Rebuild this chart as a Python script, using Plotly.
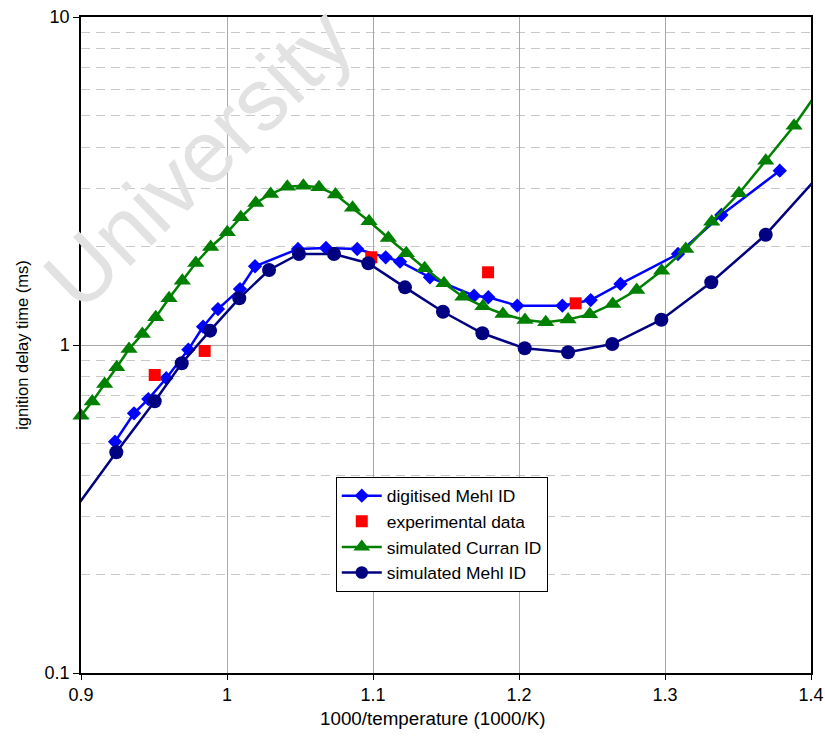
import plotly.graph_objects as go

# ---------------- data ----------------
dig_mehl_x = [0.9233, 0.9363, 0.9461, 0.9584, 0.9735, 0.9836, 0.9938, 1.0089, 1.0192,
              1.0486, 1.0678, 1.0892, 1.1087, 1.1185, 1.1390, 1.1692, 1.1790, 1.1988,
              1.2297, 1.2491, 1.2695, 1.3089, 1.3386, 1.3786]
dig_mehl_y = [0.507, 0.619, 0.684, 0.792, 0.968, 1.137, 1.287, 1.481, 1.738,
              1.962, 1.976, 1.962, 1.851, 1.795, 1.608, 1.413, 1.398, 1.318,
              1.318, 1.371, 1.535, 1.894, 2.491, 3.40]

exp_x = [0.9505, 0.9847, 1.0988, 1.1788, 1.2388]
exp_y = [0.810, 0.959, 1.851, 1.666, 1.340]

curran_x = [0.9000, 0.9077, 0.9162, 0.9245, 0.9329, 0.9420, 0.9512, 0.9603, 0.9694, 0.9786,
            0.9888, 1.0002, 1.0094, 1.0197, 1.0299, 1.0413, 1.0523, 1.0630, 1.0743, 1.0860,
            1.0973, 1.1105, 1.1228, 1.1354, 1.1486, 1.1616, 1.1753, 1.1890, 1.2041, 1.2183,
            1.2336, 1.2484, 1.2642, 1.2806, 1.2977, 1.3142, 1.3320, 1.3507, 1.3690, 1.3884,
            1.4100]
curran_y = [0.609, 0.672, 0.760, 0.855, 0.972, 1.080, 1.215, 1.388, 1.570, 1.778,
            1.990, 2.206, 2.451, 2.710, 2.886, 3.038, 3.060, 3.026, 2.876, 2.620,
            2.383, 2.120, 1.904, 1.713, 1.542, 1.404, 1.312, 1.243, 1.192, 1.173,
            1.196, 1.240, 1.334, 1.471, 1.684, 1.962, 2.376, 2.901, 3.647, 4.663,
            6.40]

sim_mehl_x = [0.8800, 0.9242, 0.9505, 0.9690, 0.9884, 1.0084, 1.0288, 1.0493, 1.0733, 1.0968,
              1.1219, 1.1479, 1.1749, 1.2039, 1.2336, 1.2639, 1.2975, 1.3317, 1.3690,
              1.4100]
sim_mehl_y = [0.253, 0.471, 0.674, 0.880, 1.106, 1.388, 1.693, 1.894, 1.894, 1.775,
              1.499, 1.263, 1.086, 0.977, 0.950, 1.007, 1.194, 1.553, 2.169,
              3.46]

x_ticks = [0.9, 1.0, 1.1, 1.2, 1.3, 1.4]
x_tick_labels = ["0.9", "1", "1.1", "1.2", "1.3", "1.4"]
y_ticks = [0.1, 1, 10]
y_tick_labels = ["0.1", "1", "10"]


def marker_sizes(xs, size):
    # points lying outside the visible x range carry no marker
    return [size if 0.9 <= x <= 1.4 else 0 for x in xs]


FONT = "Liberation Sans, Arial, sans-serif"

fig = go.Figure()

fig.add_trace(go.Scatter(
    x=dig_mehl_x, y=dig_mehl_y, mode="lines+markers", name="digitised Mehl ID",
    line=dict(color="#0000FF", width=2.5),
    marker=dict(symbol="diamond", size=11, color="#0000FF", opacity=1,
                line=dict(width=0)),
    legendgroup="a"))

fig.add_trace(go.Scatter(
    x=exp_x, y=exp_y, mode="markers", name="experimental data",
    marker=dict(symbol="square", size=12, color="#FF0000", opacity=1,
                line=dict(width=0)),
    legendgroup="b"))

fig.add_trace(go.Scatter(
    x=curran_x, y=curran_y, mode="lines+markers", name="simulated Curran ID",
    line=dict(color="#008000", width=2.5),
    marker=dict(symbol="triangle-up", size=marker_sizes(curran_x, 15), color="#008000",
                opacity=1, line=dict(width=0)),
    cliponaxis=False, legendgroup="c"))

fig.add_trace(go.Scatter(
    x=sim_mehl_x, y=sim_mehl_y, mode="lines+markers", name="simulated Mehl ID",
    line=dict(color="#000080", width=2.5),
    marker=dict(symbol="circle", size=marker_sizes(sim_mehl_x, 14), color="#000080",
                opacity=1, line=dict(width=0)),
    cliponaxis=False, legendgroup="d"))

fig.update_layout(
    width=825, height=737,
    margin=dict(l=81, r=14, t=17, b=64, autoexpand=False),
    paper_bgcolor="white", plot_bgcolor="white",
    font=dict(family=FONT, size=17, color="#000"),
    showlegend=True,
    legend=dict(
        x=0.349, y=0.299, xanchor="left", yanchor="top",
        bgcolor="white", bordercolor="#000", borderwidth=1,
        font=dict(family=FONT, size=17.4), tracegroupgap=0,
        itemwidth=40,
    ),
    annotations=[
        dict(
            text="University", xref="paper", yref="paper",
            x=0.160, y=0.784, xanchor="center", yanchor="middle",
            textangle=-44, showarrow=False,
            font=dict(family=FONT, size=88, color="#e2e2e2"),
        ),
        dict(
            text="1000/temperature (1000/K)", xref="paper", yref="paper",
            x=0.482, y=-0.0686, xanchor="center", yanchor="middle",
            showarrow=False, font=dict(family=FONT, size=18.8, color="#000"),
        ),
    ],
)

fig.update_xaxes(
    range=[0.9, 1.4], tickvals=x_ticks, ticktext=x_tick_labels,
    showline=True, linecolor="#000", linewidth=1.5, mirror=True,
    ticks="outside", ticklen=5, tickcolor="#000",
    showgrid=True, gridcolor="#a8a8a8", gridwidth=1,
    zeroline=False, automargin=False,
    tickfont=dict(size=18),
)

fig.update_yaxes(
    type="log", range=[-1, 1], tickvals=y_ticks, ticktext=y_tick_labels,
    showline=True, linecolor="#000", linewidth=1.5, mirror=True,
    ticks="outside", ticklen=6, tickcolor="#000",
    showgrid=True, gridcolor="#a8a8a8", gridwidth=1,
    minor=dict(dtick="D1", showgrid=True, gridcolor="#c8c8c8", gridwidth=1,
               griddash="9px,6px", ticks=""),
    zeroline=False, automargin=False,
    tickfont=dict(size=18),
    title=dict(text="ignition delay time (ms)", font=dict(size=16.5), standoff=12),
)

fig.write_html("out.html")
